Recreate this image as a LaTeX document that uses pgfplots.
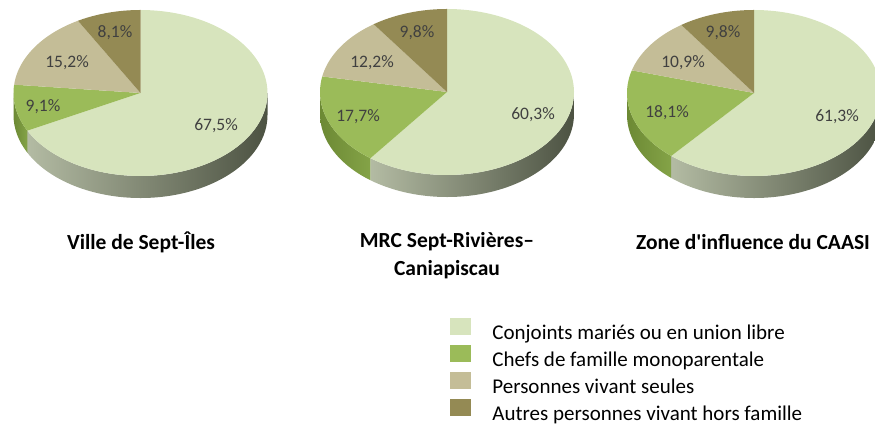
\documentclass[border=0pt]{standalone}
\usepackage{pgfplots}
\pgfplotsset{compat=1.18}
\usepackage{fontspec}
\setmainfont{Carlito}[Ligatures=TeXOff]
\definecolor{cA}{HTML}{D7E4BD}
\definecolor{cB}{HTML}{9BBB59}
\definecolor{cC}{HTML}{C4BD97}
\definecolor{cD}{HTML}{948A54}
\definecolor{sAl}{HTML}{B3BBA3}
\definecolor{sAm}{HTML}{6E7562}
\definecolor{sAr}{HTML}{4C5242}
\definecolor{sBl}{HTML}{6C8934}
\definecolor{sBr}{HTML}{84A347}
\definecolor{lbl}{HTML}{404040}
\def\rx{127}
\def\ry{83}
\def\dep{22}
% #1 cx, #2 cy (pixel, from top), #3..#6 percentages
\newcommand\pie[6]{%
  \pgfmathsetmacro\cy{423-#2}%
  \pgfmathsetmacro\ta{90-3.6*#3}%
  \pgfmathsetmacro\tb{\ta-3.6*#4}%
  \pgfmathsetmacro\tc{\tb-3.6*#5}%
  \edef\doit{%
    \noexpand\addplot[forget plot, draw=none, left color=sAl, middle color=sAm, right color=sAr, domain=\ta:0, samples=60]
      ({#1+\rx*cos(x)},{\cy+\ry*sin(x)}) -- ++(0pt,-\dep pt) arc[start angle=0, end angle=\ta, x radius=\rx pt, y radius=\ry pt] -- cycle;
    \noexpand\addplot[forget plot, draw=none, left color=sBl, right color=sBr, domain=-180:\ta, samples=30]
      ({#1+\rx*cos(x)},{\cy+\ry*sin(x)}) -- ++(0pt,-\dep pt) arc[start angle=\ta, end angle=-180, x radius=\rx pt, y radius=\ry pt] -- cycle;
    \noexpand\addplot[forget plot, draw=none, fill=cA, domain=\ta:90, samples=100]
      ({#1+\rx*cos(x)},{\cy+\ry*sin(x)}) -- (axis cs:#1,\cy) -- cycle;
    \noexpand\addplot[forget plot, draw=none, fill=cB, domain=\tb:\ta, samples=40]
      ({#1+\rx*cos(x)},{\cy+\ry*sin(x)}) -- (axis cs:#1,\cy) -- cycle;
    \noexpand\addplot[forget plot, draw=none, fill=cC, domain=\tc:\tb, samples=40]
      ({#1+\rx*cos(x)},{\cy+\ry*sin(x)}) -- (axis cs:#1,\cy) -- cycle;
    \noexpand\addplot[forget plot, draw=none, fill=cD, domain=-270:\tc, samples=40]
      ({#1+\rx*cos(x)},{\cy+\ry*sin(x)}) -- (axis cs:#1,\cy) -- cycle;
  }\doit}
\newcommand\lab[3]{\node[text=lbl, font=\fontsize{17.5}{20}\selectfont] at (axis cs:#1,423-#2) {#3};}
\begin{document}
\begin{tikzpicture}
\useasboundingbox (0,0) rectangle (875pt,423pt);
\begin{axis}[
  scale only axis, width=875pt, height=423pt,
  xmin=0, xmax=875, ymin=0, ymax=423,
  hide axis, disabledatascaling, clip=true,
  legend cell align=left,
  legend style={at={(axis cs:447,107)}, anchor=north west, draw=none, fill=none,
    font=\fontsize{21}{25}\selectfont, row sep=0.1pt, column sep=0pt,
    nodes={inner xsep=0pt, inner ysep=0pt, text height=16pt, text depth=5pt}},
]
\pie{140.5}{93}{67.5}{9.1}{15.2}{8.1}
\pie{447}{92}{60.3}{17.7}{12.2}{9.8}
\pie{754}{93}{61.3}{18.1}{10.9}{9.8}
\lab{216}{126}{67,5\%}
\lab{43}{107}{9,1\%}
\lab{67}{63}{15,2\%}
\lab{115}{33}{8,1\%}
\lab{533}{115}{60,3\%}
\lab{358}{117}{17,7\%}
\lab{372}{63}{12,2\%}
\lab{417}{33}{9,8\%}
\lab{837}{117}{61,3\%}
\lab{667}{113}{18,1\%}
\lab{683}{63}{10,9\%}
\lab{723}{33}{9,8\%}
\node[font=\bfseries\fontsize{21.5}{28}\selectfont] at (axis cs:141,181) {Ville de Sept-Îles};
\node[font=\bfseries\fontsize{21.5}{28}\selectfont, align=center] at (axis cs:447,167) {MRC Sept-Rivières–\\Caniapiscau};
\node[font=\bfseries\fontsize{21.5}{28}\selectfont] at (axis cs:753,181) {Zone d'influence du CAASI};
\addlegendimage{legend image code/.code={\fill[cA] (0pt,0pt) rectangle (20pt,16pt); \path[draw=none] (0pt,0pt) -- (42pt,0pt);}}
\addlegendentry{Conjoints mariés ou en union libre}
\addlegendimage{legend image code/.code={\fill[cB] (0pt,0pt) rectangle (20pt,16pt); \path[draw=none] (0pt,0pt) -- (42pt,0pt);}}
\addlegendentry{Chefs de famille monoparentale}
\addlegendimage{legend image code/.code={\fill[cC] (0pt,0pt) rectangle (20pt,16pt); \path[draw=none] (0pt,0pt) -- (42pt,0pt);}}
\addlegendentry{Personnes vivant seules}
\addlegendimage{legend image code/.code={\fill[cD] (0pt,0pt) rectangle (20pt,16pt); \path[draw=none] (0pt,0pt) -- (42pt,0pt);}}
\addlegendentry{Autres personnes vivant hors famille}
\end{axis}
\end{tikzpicture}
\end{document}
